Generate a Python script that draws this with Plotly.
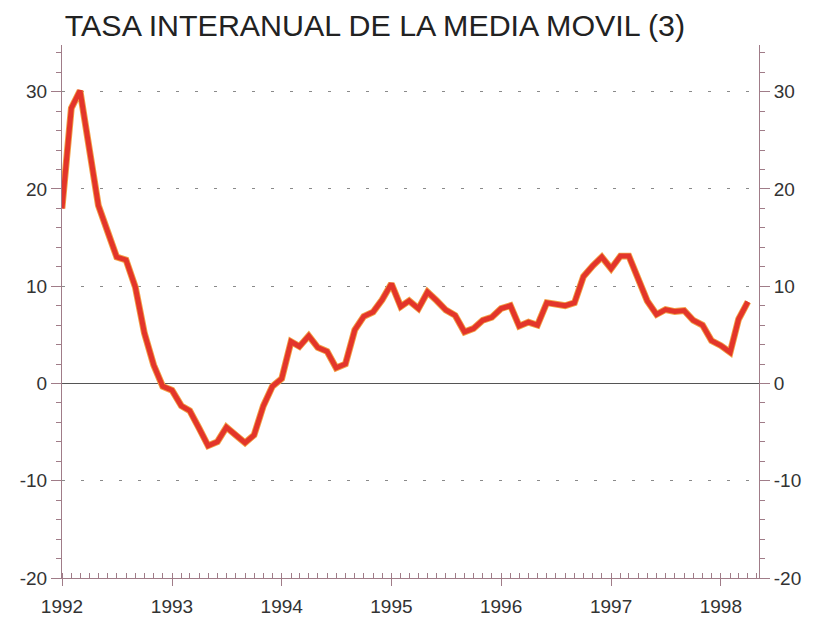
import plotly.graph_objects as go
import pandas as pd

start_month = "1992-01-01"
values = [
    18.0, 28.3, 30.1, 24.2, 18.3, 15.6, 13.0, 12.7, 9.9, 5.2, 1.9, -0.3,
    -0.7, -2.3, -2.8, -4.6, -6.4, -6.0, -4.5, -5.3, -6.1, -5.3, -2.3, -0.3,
    0.5, 4.3, 3.8, 4.9, 3.7, 3.3, 1.6, 2.0, 5.5, 6.9, 7.35, 8.6,
    10.25, 7.9, 8.5, 7.7, 9.4, 8.5, 7.55, 7.0, 5.3, 5.65, 6.5, 6.8,
    7.7, 8.0, 5.9, 6.3, 6.0, 8.3, 8.2, 8.0, 8.3, 11.0, 12.1, 13.0,
    11.8, 13.1, 13.1, 10.9, 8.5, 7.1, 7.6, 7.4, 7.5, 6.5, 6.0, 4.4,
    3.9, 3.2, 6.6, 8.4,
]
dates = pd.date_range(start_month, periods=len(values), freq="MS")

year_ticks = [f"{y}-01-01" for y in range(1992, 1999)]
year_labels = [str(y) for y in range(1992, 1999)]
y_ticks = [-20, -10, 0, 10, 20, 30]
y_labels = ["-20", "-10", "0", "10", "20", "30"]
y_range = [-20, 34.8]
x_range = ["1992-01-01", "1998-05-08"]

axis_col = "#a07c88"
font_family = "Liberation Sans, Arial, sans-serif"

fig = go.Figure()
fig.add_trace(go.Scatter(x=dates, y=values, mode="lines",
                         line=dict(color="#f2a046", width=6.8),
                         hoverinfo="skip", showlegend=False))
fig.add_trace(go.Scatter(x=dates, y=values, mode="lines",
                         line=dict(color="#e3352a", width=5),
                         showlegend=False))
fig.add_trace(go.Scatter(x=dates, y=values, mode="lines", yaxis="y2",
                         line=dict(width=0), opacity=0,
                         hoverinfo="skip", showlegend=False))

tickfont = dict(family=font_family, size=19, color="#333333")

fig.update_layout(
    width=814, height=625,
    margin=dict(l=62, r=55, t=45, b=47, autoexpand=False),
    paper_bgcolor="white", plot_bgcolor="white",
    title=dict(text="TASA INTERANUAL DE LA MEDIA MOVIL (3)",
               x=0.004, xanchor="left", xref="paper",
               y=0.96, yanchor="middle", yref="container",
               automargin=False,
               font=dict(family=font_family, size=30.4, color="#222222")),
    xaxis=dict(type="date", range=x_range, automargin=False,
               tickvals=year_ticks, ticktext=year_labels,
               ticks="outside", ticklen=7, tickcolor=axis_col, tickwidth=1,
               ticklabelstandoff=4,
               showline=True, linecolor=axis_col, linewidth=1,
               showgrid=False, zeroline=False,
               tickfont=tickfont,
               minor=dict(dtick="M1", ticks="inside", ticklen=5,
                          tickcolor=axis_col, showgrid=False)),
    yaxis=dict(range=y_range, tickvals=y_ticks, ticktext=y_labels,
               automargin=False,
               ticks="outside", ticklen=10, tickcolor=axis_col, tickwidth=1,
               showline=True, linecolor=axis_col, linewidth=1,
               showgrid=True, gridcolor="#8a8a8a", gridwidth=1,
               griddash="3px,16px",
               zeroline=True, zerolinecolor="#555555", zerolinewidth=1,
               tickfont=tickfont,
               minor=dict(dtick=2, ticks="outside", ticklen=5,
                          tickcolor=axis_col, showgrid=False)),
    yaxis2=dict(range=y_range, tickvals=y_ticks, ticktext=y_labels,
                overlaying="y", side="right",
                automargin=False,
                ticks="outside", ticklen=10, tickcolor=axis_col, tickwidth=1,
                showline=True, linecolor=axis_col, linewidth=1,
                showgrid=False, zeroline=False,
                tickfont=tickfont,
                minor=dict(dtick=2, ticks="outside", ticklen=5,
                           tickcolor=axis_col, showgrid=False)),
)

fig.write_html("out.html", config={"displayModeBar": False},
               post_script="document.body.style.margin='0px';document.body.style.padding='0px';")
